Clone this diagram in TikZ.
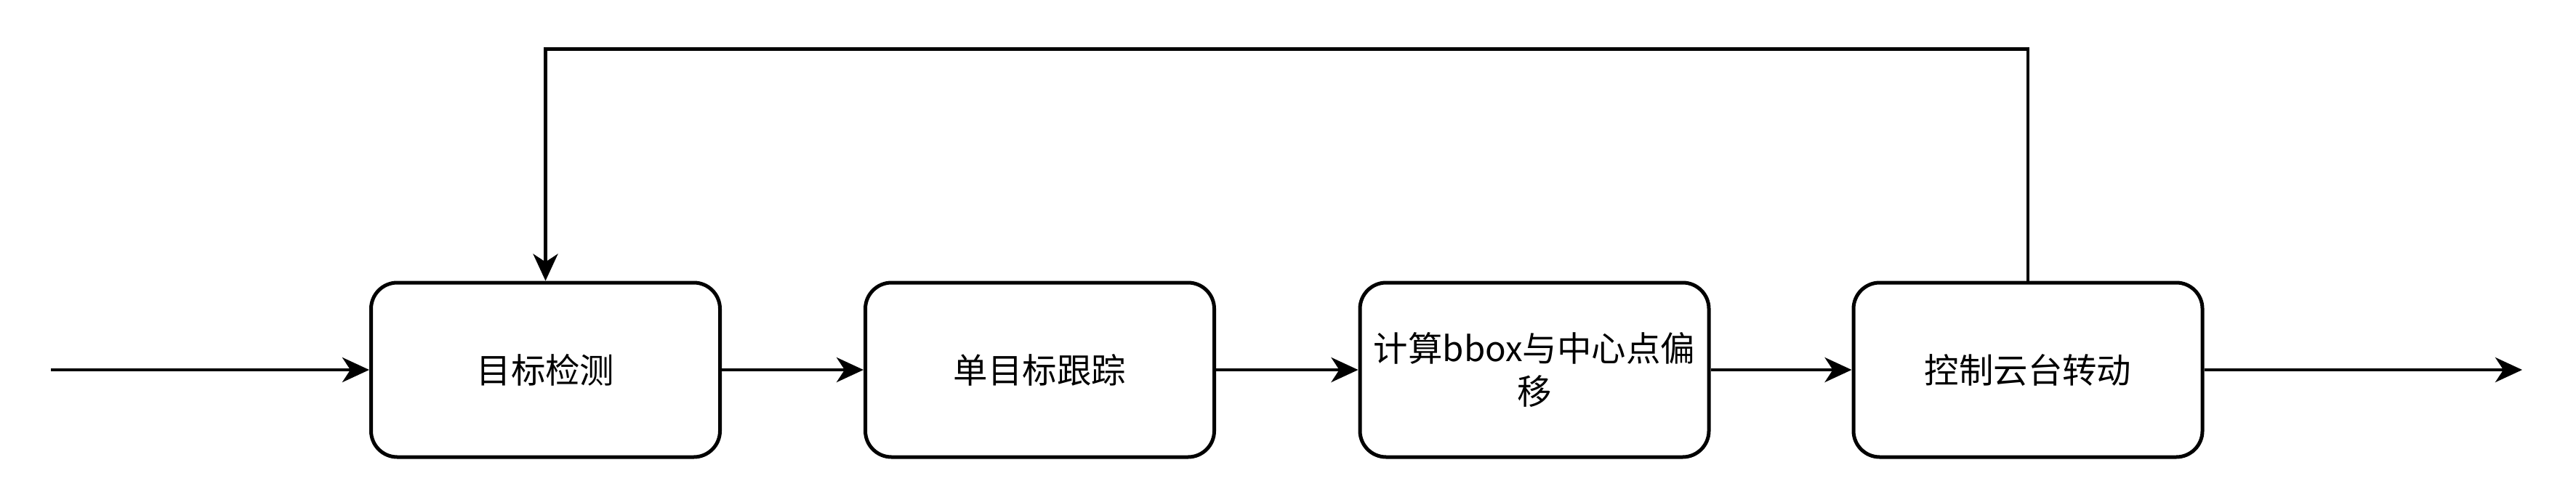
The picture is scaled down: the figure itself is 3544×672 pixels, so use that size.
\documentclass[tikz,border=0pt]{standalone}
\usepackage{fontspec}
\newfontfamily\cjk{Noto Sans CJK SC}
\usetikzlibrary{arrows.meta}
\begin{document}
\begin{tikzpicture}[x=0.2mm,y=-0.2mm,
  blk/.style={draw=black,line width=1mm,rounded corners=7.2mm,minimum width=96mm,minimum height=48mm,inner sep=0pt,align=center,font=\cjk\fontsize{27pt}{34pt}\selectfont},
  conn/.style={line width=0.9mm,-{Stealth[length=7.4mm,width=6.8mm,inset=2.2mm]}}]
\useasboundingbox (0,0) rectangle (3544,672);
\node[blk] (b1) at (750.5,509) {目标检测};
\node[blk] (b2) at (1430.5,509) {单目标跟踪};
\node[blk] (b3) at (2111,509) {计算bbox与中心点偏\\移};
\node[blk] (b4) at (2790,509) {控制云台转动};
\coordinate (in) at (70,509);
\coordinate (out) at (3470,509);
\draw[conn] (in) -- (b1);
\draw[conn] (b1) -- (b2);
\draw[conn] (b2) -- (b3);
\draw[conn] (b3) -- (b4);
\draw[conn] (b4) -- (out);
\draw[conn] (b4.north) -- ++(0,-319) -| (b1.north);
\end{tikzpicture}
\end{document}
